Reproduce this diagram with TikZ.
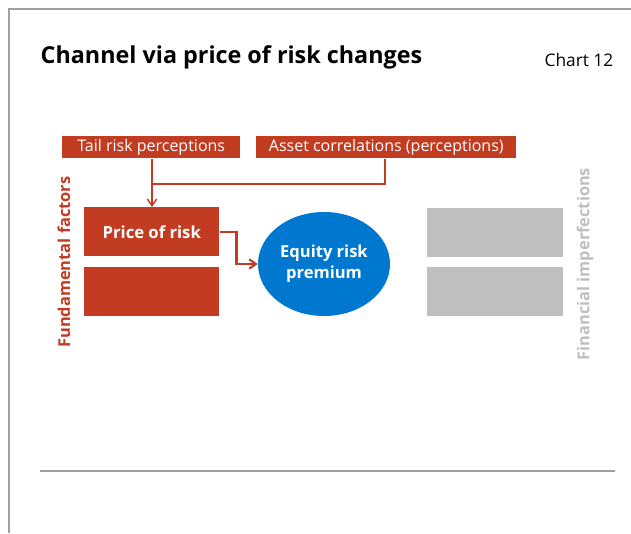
\documentclass[tikz,border=0pt]{standalone}
\usepackage{fontspec}
\setmainfont{Open Sans}
\usetikzlibrary{shapes.geometric,arrows.meta}
\definecolor{riskred}{RGB}{194,60,34}
\definecolor{riskblue}{RGB}{0,120,208}
\definecolor{boxgray}{RGB}{191,191,191}
\definecolor{framegray}{RGB}{160,160,160}
\begin{document}
\begin{tikzpicture}[x=0.75pt,y=-0.75pt,>={Straight Barb[length=5pt,width=7pt]},
  redtag/.style={fill=riskred,text=white,font=\fontsize{12}{14}\selectfont,
    inner sep=0pt,anchor=north west,text height=7.5pt,text depth=1pt},
  factorbox/.style={fill=riskred,text=white,minimum width=101.25pt,minimum height=36.75pt,
    inner sep=0pt,anchor=north west,font=\fontsize{12.5}{14}\selectfont\bfseries},
  imperfbox/.style={fill=boxgray,minimum width=102pt,minimum height=36.75pt,
    inner sep=0pt,anchor=north west},
  sidelabel/.style={rotate=90,font=\fontsize{12.3}{14}\selectfont\bfseries},
  link/.style={draw=riskred,line width=1.1pt}]

\useasboundingbox (0,0) rectangle (631,533);

%%%%%%%%%%%%%%%%%%%%%%%%%%%%%%%%%%%%%%%%%%
  % Frame and title
  \begin{scope}
    \draw[framegray,line width=1.5pt] (9,533) -- (9,9) -- (631,9);
    \draw[framegray,line width=1.5pt] (40,471) -- (615,471);
    \node[anchor=west,font=\fontsize{17.5}{20}\selectfont\bfseries] (title) at (36,57) {Channel via price of risk changes};
    \node[anchor=east,font=\fontsize{13}{15}\selectfont] (chart) at (618,60) {Chart 12};
  \end{scope}

%%%%%%%%%%%%%%%%%%%%%%%%%%%%%%%%%%%%%%%%%%
  % Perceptions
  \node[redtag,minimum width=133.5pt,minimum height=16.5pt] (tail) at (62,136) {Tail risk perceptions};
  \node[redtag,minimum width=195pt,minimum height=16.5pt] (corr) at (256,136) {Asset correlations (perceptions)};

  % Fundamental factors
  \node[factorbox] (price) at (84,207) {Price of risk};
  \node[factorbox] (fundlow) at (84,267) {};
  \node[sidelabel,text=riskred] (fund) at (64,262) {Fundamental factors};

  % Equity risk premium
  \node[ellipse,fill=riskblue,text=white,minimum width=99pt,minimum height=78pt,inner sep=0pt,
    align=center,font=\fontsize{12.4}{15.5}\selectfont\bfseries] (erp) at (324,264) {Equity risk\\premium};

  % Financial imperfections
  \node[imperfbox] (impup) at (427,208) {};
  \node[imperfbox] (implow) at (427,267) {};
  \node[sidelabel,text=boxgray] (imperf) at (585,264) {Financial imperfections};

%%%%%%%%%%%%%%%%%%%%%%%%%%%%%%%%%%%%%%%%%%
  % Connectors
  \coordinate (join) at (152,184);
  \draw[link] (corr.south west -| 385,0) -- (385,184) -- (join);
  \draw[link,->] (tail.south west -| join) -- (join) -- (price.north -| join);
  \draw[link,line width=1.6pt,->] (price.east) -- ++(17,0) |- (erp.west);
\end{tikzpicture}
\end{document}
